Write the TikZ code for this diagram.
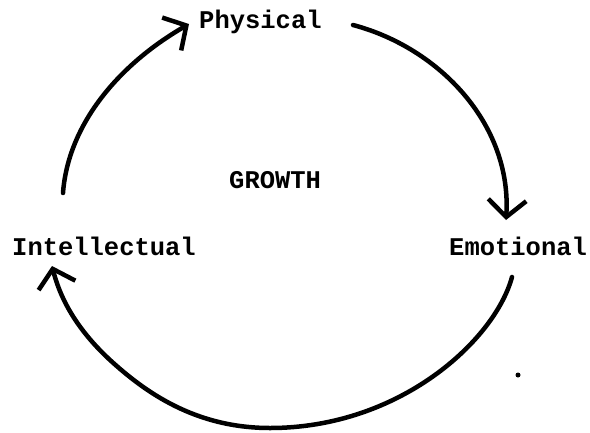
\documentclass[tikz,border=0pt]{standalone}
\usepackage{fontspec}
\setmonofont{Liberation Mono}
\usetikzlibrary{arrows.meta}
\begin{document}
\begin{tikzpicture}[x=1pt,y=-1pt,
  lbl/.style={font=\ttfamily\bfseries\fontsize{25.5}{30}\selectfont, inner sep=0pt, anchor=base west},
  cyc/.style={line width=4.5pt, line cap=round, line join=round,
    -{Straight Barb[length=17pt,width=38pt]}}]
\useasboundingbox (0,0) rectangle (590,432);
% labels
\node[lbl] (phys) at (199,28) {Physical};
\node[lbl] (grow) at (229,188) {GROWTH};
\node[lbl] (int)  at (12,255) {Intellectual};
\node[lbl] (emo)  at (449,255) {Emotional};
% connector ends
\coordinate (a1s) at (63,193);
\coordinate (a1t) at (189,24);
\coordinate (a2s) at (353,25);
\coordinate (a2t) at (506,220);
\coordinate (a3s) at (512,277);
\coordinate (a3t) at (52,266);
% connectors
\draw[cyc] (a1s) .. controls (68,125) and (118,65) .. (a1t);
\draw[cyc] (a2s) .. controls (440,48) and (512,125) .. (a2t);
\draw[cyc] (a3s) .. controls (495,340) and (400,428) .. (270,428)
  .. controls (195,428) and (145,392) .. (110,360)
  .. controls (82,334) and (62,305) .. (a3t);
% speck
\fill (518,375) circle (2.5);
\end{tikzpicture}
\end{document}
